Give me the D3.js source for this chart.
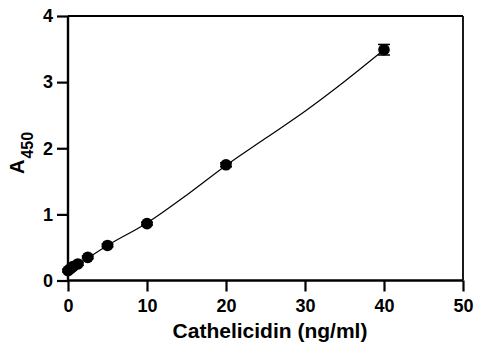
<!DOCTYPE html>
<html><head><meta charset="utf-8">
<script src="https://cdn.jsdelivr.net/npm/d3@7"></script>
<style>body{margin:0;background:#fff}svg{display:block}text{font-family:"Liberation Sans",Arial,sans-serif;font-weight:bold}</style>
</head><body>
<script>
const concentrations = [0, 0.3125, 0.625, 1.25, 2.5, 5, 10, 20, 40];
const absorbance = [0.15, 0.18, 0.21, 0.25, 0.35, 0.53, 0.86, 1.75, 3.49];
const errors = [0.02, 0.02, 0.02, 0.02, 0.02, 0.02, 0.02, 0.03, 0.08];
// fitted standard curve
const fitX = [0, 0.625, 1.25, 2.5, 5, 10, 15, 20, 25, 30, 35, 40];
const fitY = [0.15, 0.20, 0.25, 0.34, 0.53, 0.87, 1.29, 1.74, 2.15, 2.56, 3.01, 3.49];
const xTicks = [0, 10, 20, 30, 40, 50];
const yTicks = [0, 1, 2, 3, 4];

const W = 477, H = 347;
const svg = d3.select("body").append("svg").attr("width", W).attr("height", H);
const x = d3.scaleLinear().domain([0, 50]).range([68, 463]);
const y = d3.scaleLinear().domain([0, 4]).range([280.5, 16]);

// frame (top/right)
svg.append("line").attr("x1", x(0)).attr("x2", x(50)).attr("y1", y(4)).attr("y2", y(4)).attr("stroke", "#000").attr("stroke-width", 1.8);
svg.append("line").attr("x1", x(50)).attr("x2", x(50)).attr("y1", y(4)).attr("y2", y(0)).attr("stroke", "#000").attr("stroke-width", 1.8);

const xa = svg.append("g").attr("transform", `translate(0,${y(0)})`)
  .call(d3.axisBottom(x).tickValues(xTicks).tickFormat(d3.format("d")).tickSize(11).tickPadding(8));
const ya = svg.append("g").attr("transform", `translate(${x(0)},0)`)
  .call(d3.axisLeft(y).tickValues(yTicks).tickFormat(d3.format("d")).tickSize(11).tickPadding(4));
[xa, ya].forEach(g => {
  g.select(".domain").attr("stroke-width", 2.4);
  g.selectAll(".tick line").attr("stroke-width", 2.2);
  g.selectAll("text").attr("font-size", 18).attr("font-family", "Liberation Sans, Arial, sans-serif").attr("font-weight", "bold").attr("fill", "#000");
});
xa.select(".domain").attr("d", `M${x(0)},0H${x(50)}`);
ya.select(".domain").attr("d", `M0,${y(0)}V${y(4)}`);

const fit = fitX.map((c, i) => ({c, a: fitY[i]}));
svg.append("path").datum(fit)
  .attr("d", d3.line().x(d => x(d.c)).y(d => y(d.a)).curve(d3.curveMonotoneX))
  .attr("fill", "none").attr("stroke", "#000").attr("stroke-width", 1.2);

const data = concentrations.map((c, i) => ({c, a: absorbance[i], e: errors[i]}));
// error bars
const eb = svg.append("g");
data.forEach(d => {
  eb.append("line").attr("x1", x(d.c)).attr("x2", x(d.c)).attr("y1", y(d.a - d.e)).attr("y2", y(d.a + d.e)).attr("stroke", "#000").attr("stroke-width", 1.5);
  [d.a - d.e, d.a + d.e].forEach(v => eb.append("line").attr("x1", x(d.c) - 6).attr("x2", x(d.c) + 6).attr("y1", y(v)).attr("y2", y(v)).attr("stroke", "#000").attr("stroke-width", 1.5));
});
svg.append("g").selectAll("circle").data(data).join("circle")
  .attr("cx", d => x(d.c)).attr("cy", d => y(d.a)).attr("r", 5.8).attr("fill", "#000");

svg.append("text").attr("x", 270).attr("y", 338).attr("text-anchor", "middle").attr("font-size", 21).text("Cathelicidin (ng/ml)");
const yl = svg.append("text").attr("transform", `translate(24,174) rotate(-90)`).attr("text-anchor", "start").attr("font-size", 20);
yl.append("tspan").text("A");
yl.append("tspan").attr("font-size", 16).attr("dy", 9).attr("dx", 1).text("450");
</script>
</body></html>
